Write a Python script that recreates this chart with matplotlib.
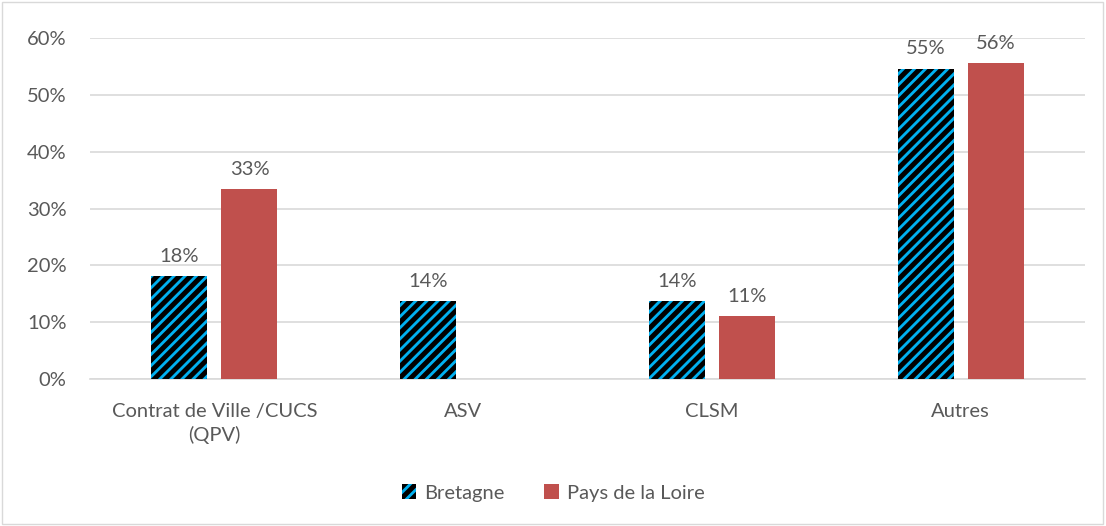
import matplotlib.pyplot as plt
import numpy as np
from matplotlib.patches import Rectangle

plt.rcParams['font.family'] = ['Lato', 'DejaVu Sans']
plt.rcParams['hatch.linewidth'] = 3.6
plt.rcParams['hatch.color'] = 'black'

categories = ['Contrat de Ville /CUCS\n(QPV)', 'ASV', 'CLSM', 'Autres']
bretagne = [0.181, 0.137, 0.137, 0.546]
pays_loire = [0.334, 0.0, 0.111, 0.556]
bretagne_labels = ['18%', '14%', '14%', '55%']
pays_labels = ['33%', '', '11%', '56%']

text_color = '#595959'
blue = '#00B0F0'
red = '#C0504D'
fs = 14.5

fig = plt.figure(figsize=(11.06, 5.26), dpi=100)
ax = fig.add_axes([90 / 1106, 1 - 379 / 526, 995 / 1106, 341 / 526])

x = np.arange(len(categories))
w = 0.225
off = 0.141

b1 = ax.bar(x - off, bretagne, w, color=blue, hatch='///', edgecolor='black',
            linewidth=0, label='Bretagne', zorder=3)
b2 = ax.bar(x + off, pays_loire, w, color=red, edgecolor='none',
            label='Pays de la Loire', zorder=3)

for rect, lab in zip(b1, bretagne_labels):
    ax.text(rect.get_x() + rect.get_width() / 2, rect.get_height() + 0.02, lab,
            ha='center', va='bottom', fontsize=fs, color=text_color)
for rect, lab in zip(b2, pays_labels):
    if lab:
        ax.text(rect.get_x() + rect.get_width() / 2, rect.get_height() + 0.02, lab,
                ha='center', va='bottom', fontsize=fs, color=text_color)

ax.set_xlim(-0.5, 3.5)
ax.set_ylim(0, 0.6)
ax.set_yticks(np.arange(0, 0.61, 0.1))
ax.set_yticklabels([f'{int(round(v * 100))}%' for v in np.arange(0, 0.61, 0.1)])
ax.set_xticks(x)
ax.set_xticklabels(categories, linespacing=1.45)
ax.tick_params(axis='both', length=0, labelsize=fs, colors=text_color)
ax.tick_params(axis='x', pad=17)
ax.tick_params(axis='y', pad=17)
ax.grid(axis='y', color='#D9D9D9', linewidth=1.2, zorder=0)
for s in ['top', 'right', 'left']:
    ax.spines[s].set_visible(False)
ax.spines['bottom'].set_color('#D9D9D9')
ax.spines['bottom'].set_linewidth(1.2)

leg = fig.legend(handles=[b1, b2], labels=['Bretagne', 'Pays de la Loire'],
                 loc='center', bbox_to_anchor=(0.5, 1 - 493 / 526), ncol=2,
                 frameon=False, fontsize=fs, handlelength=0.7, handleheight=0.7,
                 columnspacing=2.0, handletextpad=0.4)
for t in leg.get_texts():
    t.set_color(text_color)

fig.patches.append(Rectangle((0.002, 0.003), 0.995, 0.993, transform=fig.transFigure,
                             fill=False, edgecolor='#D9D9D9', linewidth=1))

fig.savefig('out.png', dpi=100, facecolor='white')
